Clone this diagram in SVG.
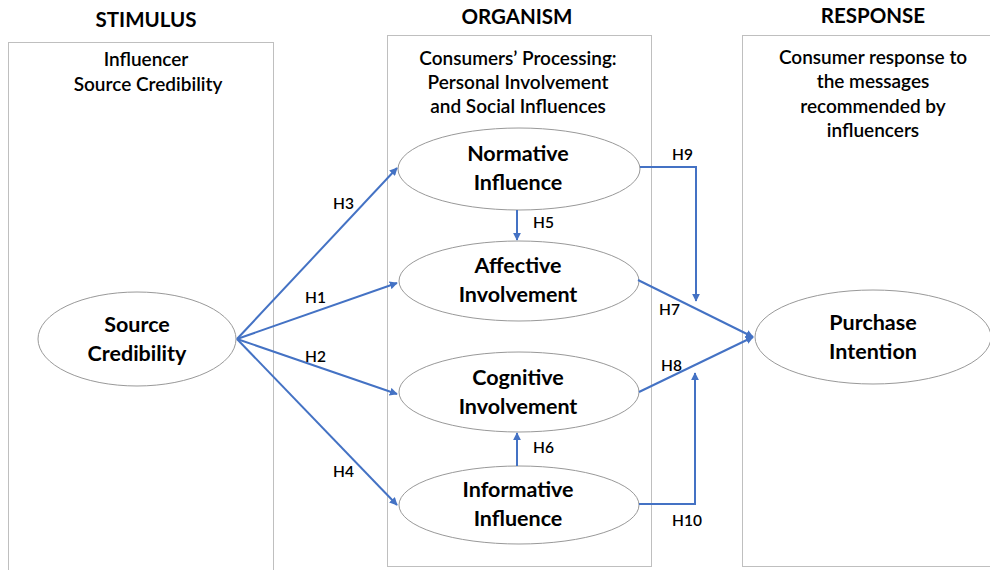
<svg xmlns="http://www.w3.org/2000/svg" width="990" height="570" viewBox="0 0 990 570">
<style>
  .box{fill:#fff;stroke:#bfbfbf;stroke-width:1}
  .ell{fill:#fff;stroke:#999;stroke-width:1}
  .title{font-family:Lato,"Liberation Sans",sans-serif;font-weight:bold;font-size:20.5px;fill:#000;text-anchor:middle}
  .sub{font-family:Lato,"Liberation Sans",sans-serif;font-weight:600;font-size:19px;fill:#000;text-anchor:middle}
  .node{font-family:Lato,"Liberation Sans",sans-serif;font-weight:bold;font-size:21.5px;fill:#000;text-anchor:middle}
  .lbl{font-family:Lato,"Liberation Sans",sans-serif;font-weight:600;font-size:15.5px;fill:#000}
  .con{fill:none;stroke:#4472c4;stroke-width:2}
</style>
<defs>
  <marker id="arr" viewBox="0 0 10 10" refX="9" refY="5" markerWidth="4" markerHeight="4" orient="auto" markerUnits="strokeWidth">
    <path d="M0,0 L10,5 L0,10 z" fill="#4472c4"/>
  </marker>
</defs>
<rect width="990" height="570" fill="#fff"/>

<g id="stimulus">
  <rect class="box" x="8.5" y="42.5" width="265" height="530"/>
  <text class="title" x="146" y="27">STIMULUS</text>
  <text class="sub" x="146" y="66">Influencer</text>
  <text class="sub" x="148" y="91">Source Credibility</text>
</g>
<g id="organism">
  <rect class="box" x="387.5" y="35.5" width="264" height="531"/>
  <text class="title" x="517" y="24">ORGANISM</text>
  <text class="sub" x="518" y="65">Consumers’ Processing:</text>
  <text class="sub" x="518" y="89">Personal Involvement</text>
  <text class="sub" x="518" y="113">and Social Influences</text>
</g>
<g id="response">
  <rect class="box" x="742.5" y="35.5" width="260" height="531"/>
  <text class="title" x="873" y="23">RESPONSE</text>
  <text class="sub" x="873" y="64">Consumer response to</text>
  <text class="sub" x="873" y="88">the messages</text>
  <text class="sub" x="873" y="113">recommended by</text>
  <text class="sub" x="873" y="137">influencers</text>
</g>

<g id="source-credibility">
  <ellipse class="ell" cx="137" cy="339" rx="99" ry="47"/>
  <text class="node" x="137" y="332">Source</text>
  <text class="node" x="137" y="361">Credibility</text>
</g>
<g id="normative-influence">
  <ellipse class="ell" cx="519" cy="169" rx="121" ry="41"/>
  <text class="node" x="518" y="161">Normative</text>
  <text class="node" x="518" y="190">Influence</text>
</g>
<g id="affective-involvement">
  <ellipse class="ell" cx="519" cy="281" rx="120" ry="40"/>
  <text class="node" x="518" y="273">Affective</text>
  <text class="node" x="518" y="302">Involvement</text>
</g>
<g id="cognitive-involvement">
  <ellipse class="ell" cx="519" cy="392" rx="120" ry="40"/>
  <text class="node" x="518" y="385">Cognitive</text>
  <text class="node" x="518" y="414">Involvement</text>
</g>
<g id="informative-influence">
  <ellipse class="ell" cx="519" cy="505" rx="120" ry="39"/>
  <text class="node" x="518" y="497">Informative</text>
  <text class="node" x="518" y="526">Influence</text>
</g>
<g id="purchase-intention">
  <ellipse class="ell" cx="873" cy="337" rx="118" ry="47"/>
  <text class="node" x="873" y="330">Purchase</text>
  <text class="node" x="873" y="359">Intention</text>
</g>

<g id="connectors">
  <line class="con" x1="237" y1="339" x2="397" y2="168" marker-end="url(#arr)"/>
  <line class="con" x1="237" y1="339" x2="397" y2="283" marker-end="url(#arr)"/>
  <line class="con" x1="237" y1="339" x2="397" y2="394" marker-end="url(#arr)"/>
  <line class="con" x1="237" y1="339" x2="397" y2="505" marker-end="url(#arr)"/>
  <line class="con" x1="517" y1="210" x2="517" y2="240" marker-end="url(#arr)"/>
  <line class="con" x1="517" y1="466" x2="517" y2="433" marker-end="url(#arr)"/>
  <polyline class="con" points="640,167 696,167 696,301" marker-end="url(#arr)"/>
  <line class="con" x1="638" y1="280" x2="753" y2="337" marker-end="url(#arr)"/>
  <line class="con" x1="639" y1="392" x2="753" y2="337" marker-end="url(#arr)"/>
  <polyline class="con" points="639,504 695,504 695,373" marker-end="url(#arr)"/>
  <text class="lbl" x="333" y="209">H3</text>
  <text class="lbl" x="305" y="303">H1</text>
  <text class="lbl" x="305" y="362">H2</text>
  <text class="lbl" x="333" y="477">H4</text>
  <text class="lbl" x="533" y="228">H5</text>
  <text class="lbl" x="533" y="453">H6</text>
  <text class="lbl" x="672" y="160">H9</text>
  <text class="lbl" x="659" y="315">H7</text>
  <text class="lbl" x="661" y="371">H8</text>
  <text class="lbl" x="672" y="526">H10</text>
</g>
</svg>
